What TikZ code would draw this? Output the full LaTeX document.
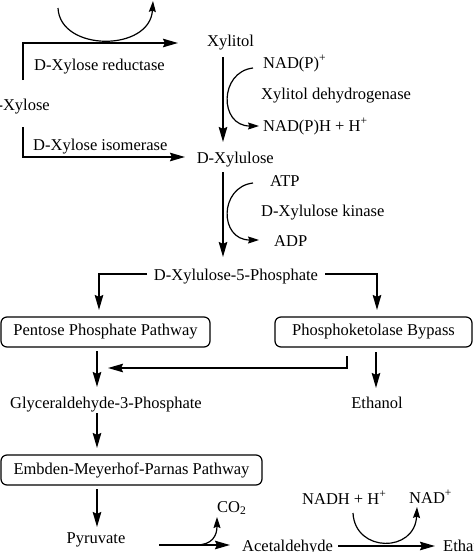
\documentclass[tikz,border=0pt]{standalone}
\usepackage{fontspec}
\setmainfont{Liberation Serif}
\usetikzlibrary{arrows.meta}
\begin{document}
\begin{tikzpicture}[x=1pt,y=-1pt,
  every node/.style={font=\fontsize{16.5}{19}\selectfont},
  lbl/.style={anchor=base west,inner sep=0pt},
  lblc/.style={anchor=base,inner sep=0pt},
  pbox/.style={draw,line width=1.2pt,rounded corners=6pt,minimum height=30pt,inner sep=0pt},
  main/.style={line width=1.8pt,-{Stealth[length=15pt,width=8.5pt,inset=2pt]}},
  cof/.style={line width=1.2pt,-{Stealth[length=11pt,width=7pt,inset=1.5pt]}}]
\useasboundingbox (0,0) rectangle (474,552);
\fill[white] (0,0) rectangle (474,552);
% text nodes
\node[anchor=base east,inner sep=0pt] (xylose) at (50,110) {D-Xylose};
\node[lbl] (red) at (34,70) {D-Xylose reductase};
\node[lbl] (iso) at (33,150) {D-Xylose isomerase};
\node[lbl] (xylitol) at (207,46) {Xylitol};
\node[lbl] (nadp) at (263,68) {NAD(P)\textsuperscript{+}};
\node[lbl] (xdh) at (261,99) {Xylitol dehydrogenase};
\node[lbl] (nadph) at (263,131) {NAD(P)H + H\textsuperscript{+}};
\node[anchor=base east,inner sep=0pt] (xylulose) at (274,163) {D-Xylulose};
\node[lbl] (atp) at (270,186) {ATP};
\node[lbl] (xk) at (261,216) {D-Xylulose kinase};
\node[lbl] (adp) at (274,246) {ADP};
\node[lblc] (x5p) at (236,280) {D-Xylulose-5-Phosphate};
\node[pbox,minimum width=209pt] (ppp) at (105.5,332) {Pentose Phosphate Pathway};
\node[pbox,minimum width=197pt] (pkb) at (373.5,332) {Phosphoketolase Bypass};
\node[lblc] (g3p) at (106,408) {Glyceraldehyde-3-Phosphate};
\node[lblc] (eth1) at (377,408) {Ethanol};
\node[pbox,minimum width=261pt] (emp) at (131.5,470) {Embden-Meyerhof-Parnas Pathway};
\node[lblc] (pyr) at (96,543) {Pyruvate};
\node[lbl] (co2) at (217,512) {CO\textsubscript{2}};
\node[lbl] (acet) at (242,551) {Acetaldehyde};
\node[lbl] (nadh) at (302,504) {NADH + H\textsuperscript{+}};
\node[lbl] (nad) at (409,503) {NAD\textsuperscript{+}};
\node[lbl] (eth2) at (443,551) {Ethanol};
% coordinates
\coordinate (a1) at (23,80); \coordinate (a2) at (23,43); \coordinate (a3) at (178,43);
\coordinate (b1) at (23,127); \coordinate (b2) at (23,157); \coordinate (b3) at (185,157);
\coordinate (c1) at (223,57); \coordinate (c2) at (223,142);
\coordinate (d1) at (223,172); \coordinate (d2) at (223,257);
\coordinate (e1) at (147,274); \coordinate (e2) at (99,274); \coordinate (e3) at (99,310);
\coordinate (f1) at (325,274); \coordinate (f2) at (377,274); \coordinate (f3) at (377,310);
\coordinate (g1) at (97,351); \coordinate (g2) at (97,387);
\coordinate (h1) at (347,356); \coordinate (h2) at (347,368); \coordinate (h3) at (108,368);
\coordinate (i1) at (376,352); \coordinate (i2) at (376,388);
\coordinate (j1) at (97,413); \coordinate (j2) at (97,448);
\coordinate (k1) at (97,489); \coordinate (k2) at (97,527);
\coordinate (l1) at (159,545); \coordinate (l2) at (230,545);
\coordinate (m1) at (338,546); \coordinate (m2) at (435,546);
% main connectors
\draw[main] (a1) -- (a2) -- (a3);
\draw[main] (b1) -- (b2) -- (b3);
\draw[main] (c1) -- (c2);
\draw[main] (d1) -- (d2);
\draw[main] (e1) -- (e2) -- (e3);
\draw[main] (f1) -- (f2) -- (f3);
\draw[main] (g1) -- (g2);
\draw[main] (h1) -- (h2) -- (h3);
\draw[main] (i1) -- (i2);
\draw[main] (j1) -- (j2);
\draw[main] (k1) -- (k2);
\draw[main] (l1) -- (l2);
\draw[main] (m1) -- (m2);
% cofactor arcs
\coordinate (p1) at (58,8); \coordinate (p2) at (153,1);
\draw[cof] (p1) .. controls (60,52) and (150,52) .. (p2);
\coordinate (q1) at (253,68); \coordinate (q2) at (259,126);
\draw[cof] (q1) .. controls (219,72) and (219,126) .. (q2);
\coordinate (r1) at (253,183); \coordinate (r2) at (259,240);
\draw[cof] (r1) .. controls (219,187) and (219,240) .. (r2);
\coordinate (s1) at (196,545); \coordinate (s2) at (217,517);
\draw[cof] (s1) .. controls (212,545) and (217,536) .. (s2);
\coordinate (t1) at (353,513); \coordinate (t2) at (417,507);
\draw[cof] (t1) .. controls (355,553) and (415,553) .. (t2);
\end{tikzpicture}
\end{document}
